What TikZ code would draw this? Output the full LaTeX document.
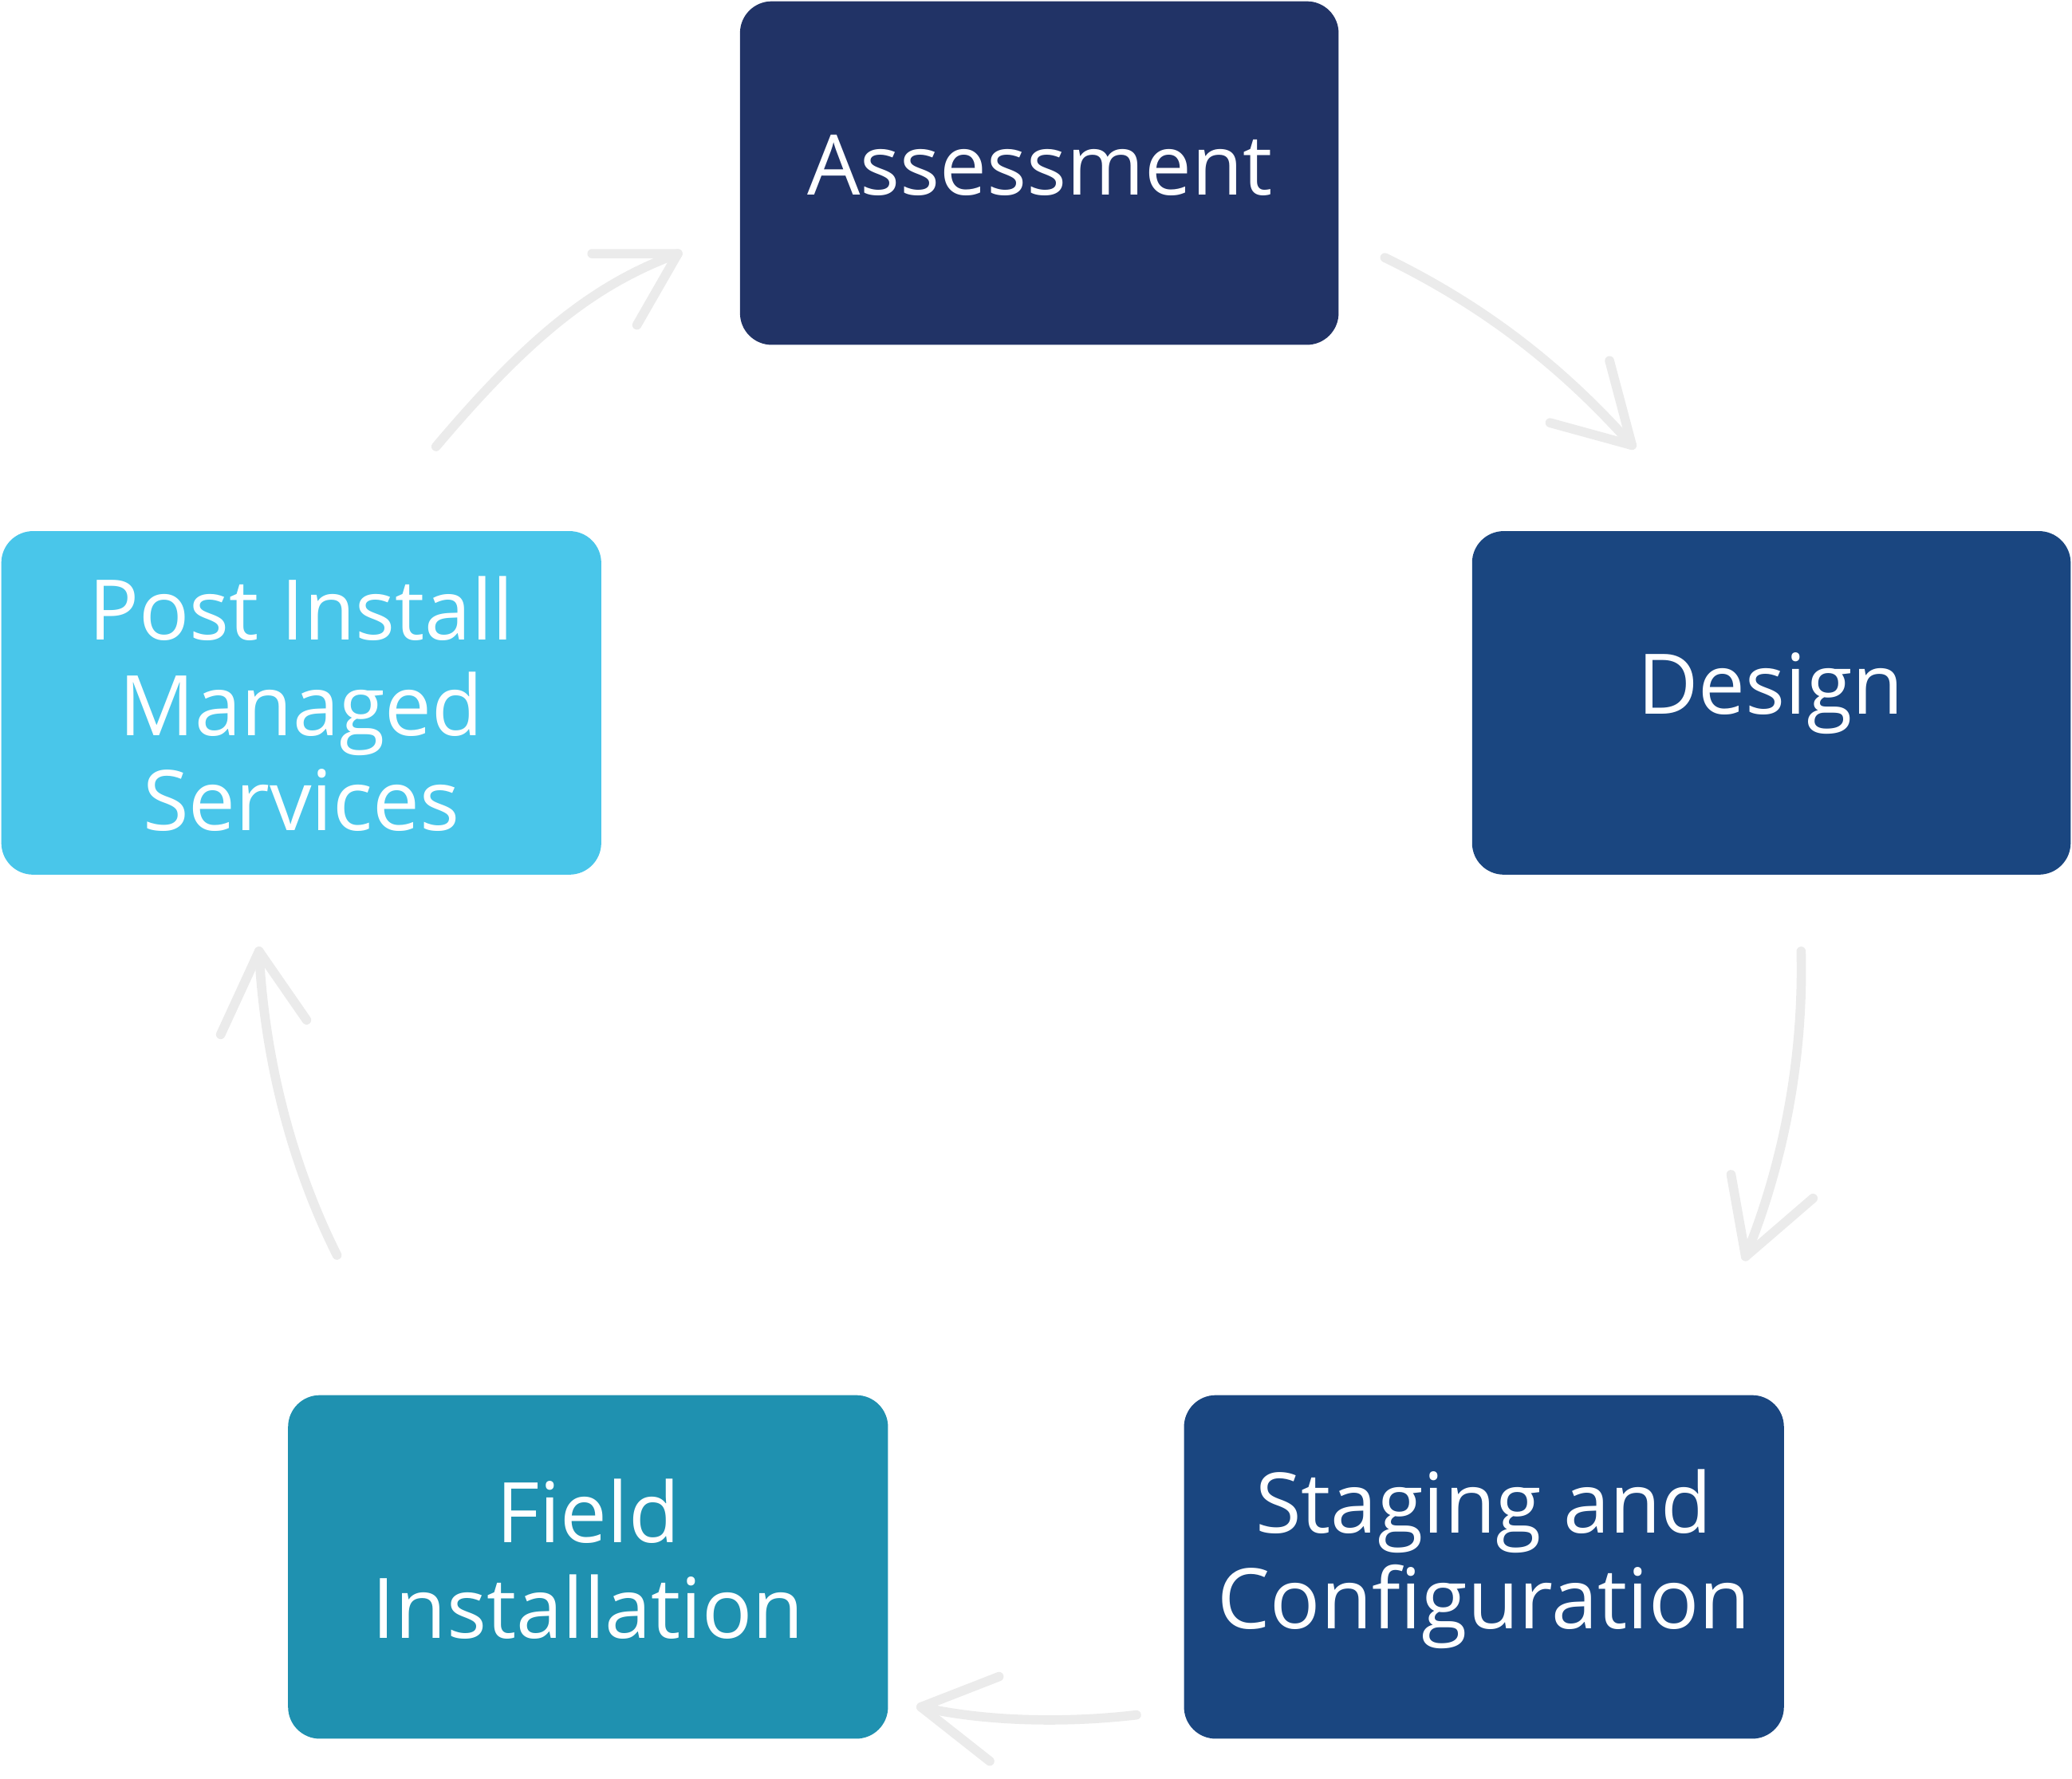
\documentclass[tikz,border=0pt]{standalone}
\usepackage{fontspec}
\setmainfont{Open Sans}
\begin{document}
\begin{tikzpicture}[x=0.01cm,y=-0.01cm,
  box/.style={rounded corners=0.24cm,text=white,align=center,font=\fontsize{18}{20.5}\selectfont},
  arr/.style={draw=black!8!white,line width=2pt,line cap=round,line join=round}]
\useasboundingbox (0,0) rectangle (1568,1346);
\definecolor{cA}{HTML}{213366}\definecolor{cD}{HTML}{1A4680}
\definecolor{cF}{HTML}{1F91B0}\definecolor{cP}{HTML}{49C6EA}
\fill[cA,rounded corners=0.24cm] (560,1) rectangle (1013,261);
\node[box] (a) at (787,125) {Assessment};
\fill[cD,rounded corners=0.24cm] (1114,402) rectangle (1567,662);
\node[box] (d) at (1340,525) {Design};
\fill[cD,rounded corners=0.24cm] (896,1056) rectangle (1350,1316);
\node[box] (s) at (1123,1180) {Staging and\\Configuration};
\fill[cF,rounded corners=0.24cm] (218,1056) rectangle (672,1316);
\node[box] (f) at (445,1180) {Field\\Installation};
\fill[cP,rounded corners=0.24cm] (1,402) rectangle (455,662);
\node[box] (p) at (228,533) {Post Install\\Managed\\Services};
\coordinate (a1s) at (330,338); \coordinate (a1e) at (513,192);
\coordinate (a2s) at (1048,195); \coordinate (a2e) at (1235,337);
\coordinate (a3s) at (1363,720); \coordinate (a3e) at (1321,951);
\coordinate (a4s) at (860,1298); \coordinate (a4e) at (697,1292);
\coordinate (a5s) at (255,950); \coordinate (a5e) at (196,720);
\draw[arr] (a1s) .. controls (400,255) and (450,215) .. (a1e);
\draw[arr] (448,192) -- (a1e) -- (482,246);
\draw[arr] (a2s) .. controls (1120,230) and (1180,275) .. (a2e);
\draw[arr] (1218,273) -- (a2e) -- (1173,320);
\draw[arr] (a3s) .. controls (1365,800) and (1350,880) .. (a3e);
\draw[arr] (1310,889) -- (a3e) -- (1372,907);
\draw[arr] (a4s) .. controls (800,1305) and (740,1302) .. (a4e);
\draw[arr] (756,1269) -- (a4e) -- (749,1333);
\draw[arr] (a5s) .. controls (220,880) and (200,800) .. (a5e);
\draw[arr] (167,783) -- (a5e) -- (232,772);
\end{tikzpicture}
\end{document}
